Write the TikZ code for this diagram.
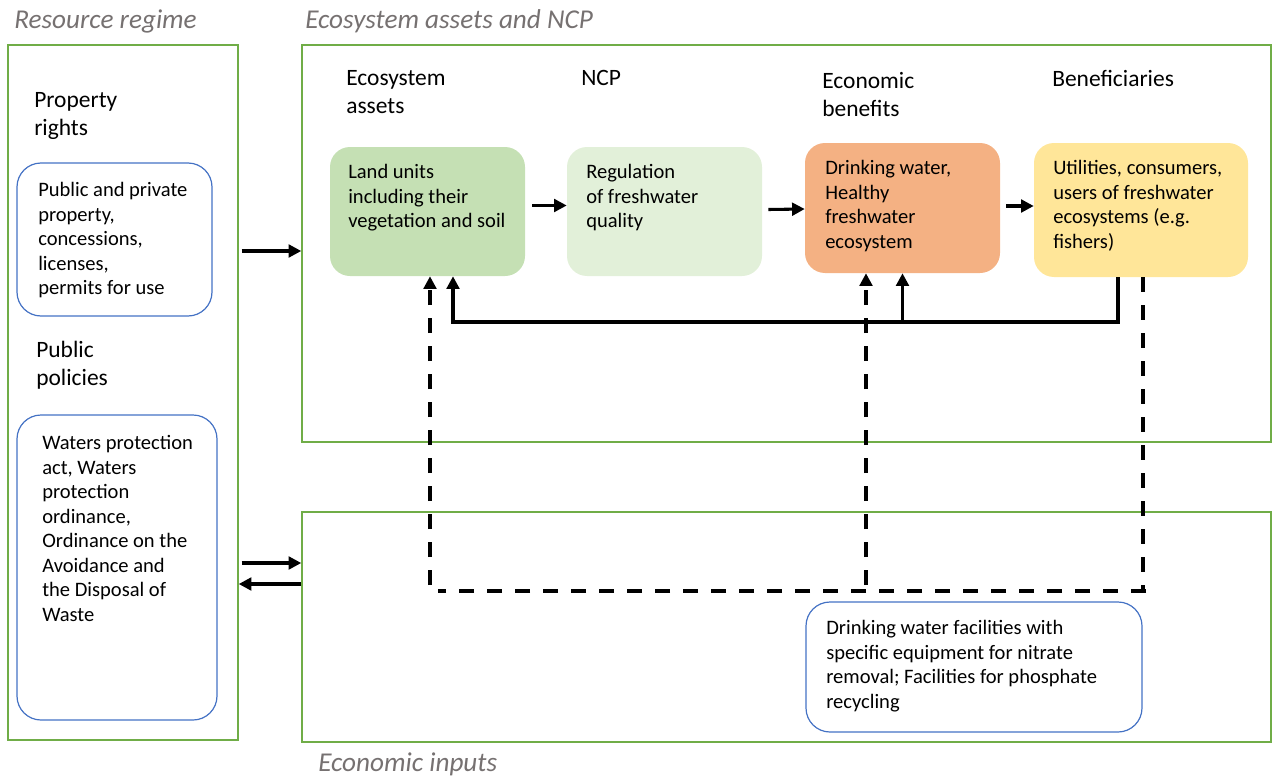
\documentclass[tikz,border=0pt]{standalone}
\usepackage{fontspec}
\setmainfont{Carlito}
\usetikzlibrary{arrows.meta,calc,fit}

\definecolor{frameg}{HTML}{70AD47}
\definecolor{blueb}{HTML}{4472C4}
\definecolor{landc}{HTML}{C5E0B4}
\definecolor{regc}{HTML}{E2F0D9}
\definecolor{drinkc}{HTML}{F4B183}
\definecolor{utilc}{HTML}{FFE699}
\definecolor{titleg}{HTML}{767171}

\tikzset{
  frame/.style={draw=frameg, line width=1.1pt, inner sep=0pt},
  fillbox/.style={rounded corners=15pt, inner sep=0pt},
  bluebox/.style={draw=blueb, line width=0.9pt, rounded corners=18pt, inner sep=0pt},
  body/.style={anchor=north west, inner sep=0pt, align=left, font=\fontsize{15.4}{18.4}\selectfont},
  head/.style={anchor=north west, inner sep=0pt, align=left, font=\fontsize{17.6}{21}\selectfont},
  ttl/.style={anchor=west, inner sep=0pt, text=titleg, font=\fontsize{20.4}{24}\selectfont\itshape},
  arr/.style={line width=2.3pt, -{Triangle[length=9.5pt,width=9.5pt]}},
  darr/.style={line width=2.3pt, dash pattern=on 11pt off 10pt, -{Triangle[length=9.5pt,width=9.5pt]}},
  dline/.style={line width=2.3pt, dash pattern=on 11pt off 10pt},
}

\begin{document}
\begin{tikzpicture}[x=0.75pt, y=-0.75pt]
\useasboundingbox (0,0) rectangle (1272,778);

% section titles
\node[ttl] (t1) at (14,21) {Resource regime};
\node[ttl] (t2) at (305,21) {Ecosystem assets and NCP};
\node[ttl] (t3) at (318,764) {Economic inputs};

% frames
\node[frame, fit={(8,45) (238,740)}] (regime) {};
\node[frame, fit={(302,45) (1271,442)}] (eco) {};
\node[frame, fit={(302,512) (1271,742)}] (inputs) {};

% resource regime column
\node[head] (h1) at (34,92) {Property\\rights};
\node[bluebox, fit={(17,163) (212,316)}] (prop) {};
\node[body] (p1) at (38,182) {Public and private\\property,\\concessions,\\licenses,\\permits for use};
\node[head] (h2) at (36,341) {Public\\policies};
\node[bluebox, fit={(17,415) (217,720)}] (pol) {};
\node[body] (p2) at (42,435) {Waters protection\\act, Waters\\protection\\ordinance,\\Ordinance on the\\Avoidance and\\the Disposal of\\Waste};

% column headers
\node[head] (c1) at (346,70) {Ecosystem\\assets};
\node[head] (c2) at (581,70) {NCP};
\node[head] (c3) at (822,72) {Economic\\benefits};
\node[head] (c4) at (1052,70) {Beneficiaries};

% chain boxes
\node[fillbox, fill=landc, fit={(330,147) (525,276)}] (land) {};
\node[body] (l1) at (348,164) {Land units\\including their\\vegetation and soil};
\node[fillbox, fill=regc, fit={(567,147) (762,276)}] (reg) {};
\node[body] (r1) at (586,164) {Regulation\\of freshwater\\quality};
\node[fillbox, fill=drinkc, fit={(805,143) (1000,273)}] (drink) {};
\node[body] (d1) at (825,160) {Drinking water,\\Healthy\\freshwater\\ecosystem};
\node[fillbox, fill=utilc, fit={(1034,143) (1248,277)}] (util) {};
\node[body] (u1) at (1053,160) {Utilities, consumers,\\users of freshwater\\ecosystems (e.g.\\fishers)};

% economic inputs box
\node[bluebox, fit={(806,602) (1142,732)}] (fac) {};
\node[body] (f1) at (826,620) {Drinking water facilities with\\specific equipment for nitrate\\removal; Facilities for phosphate\\recycling};

% chain arrows
\draw[arr] ($(land.east)+(7,-6)$) -- ($(reg.west)+(0,-6)$);
\draw[arr] ($(reg.east)+(6,-2)$) -- ($(drink.west)+(0,1)$);
\draw[arr] ($(drink.east)+(6,-2)$) -- ($(util.west)+(0,-4)$);

% regime <-> ecosystem / inputs
\coordinate (a1) at (0,251);
\coordinate (a2) at (0,563);
\coordinate (a3) at (0,584);
\draw[arr] ($(regime.east |- a1)+(3,0)$) -- (eco.west |- a1);
\draw[arr] ($(regime.east |- a2)+(3,0)$) -- (inputs.west |- a2);
\draw[arr] (inputs.west |- a3) -- (regime.east |- a3);

% feedback from beneficiaries
\coordinate (fb) at (0,322);
\draw[arr, line join=miter] ($(util.south)+(-23,0)$) |- ($(land.south |- fb)+(25.5,0)$) -- ($(land.south)+(25.5,0)$);
\draw[arr] (drink.south |- fb) -- (drink.south);

% dashed links to economic inputs
\coordinate (dv) at (0,585);
\coordinate (dh) at (0,591);
\draw[darr] ($(land.south |- dv)+(2.5,0)$) -- ($(land.south)+(2.5,0)$);
\draw[darr] ($(drink.south |- dv)+(-36.5,0)$) -- ($(drink.south)+(-36.5,0)$);
\draw[dline] ($(util.south)+(2,0)$) -- ($(util.south |- dh)+(2,0)$);
\draw[dline] ($(util.south |- dh)+(5,0)$) -- ($(land.south |- dh)+(10.5,0)$);
\end{tikzpicture}
\end{document}
